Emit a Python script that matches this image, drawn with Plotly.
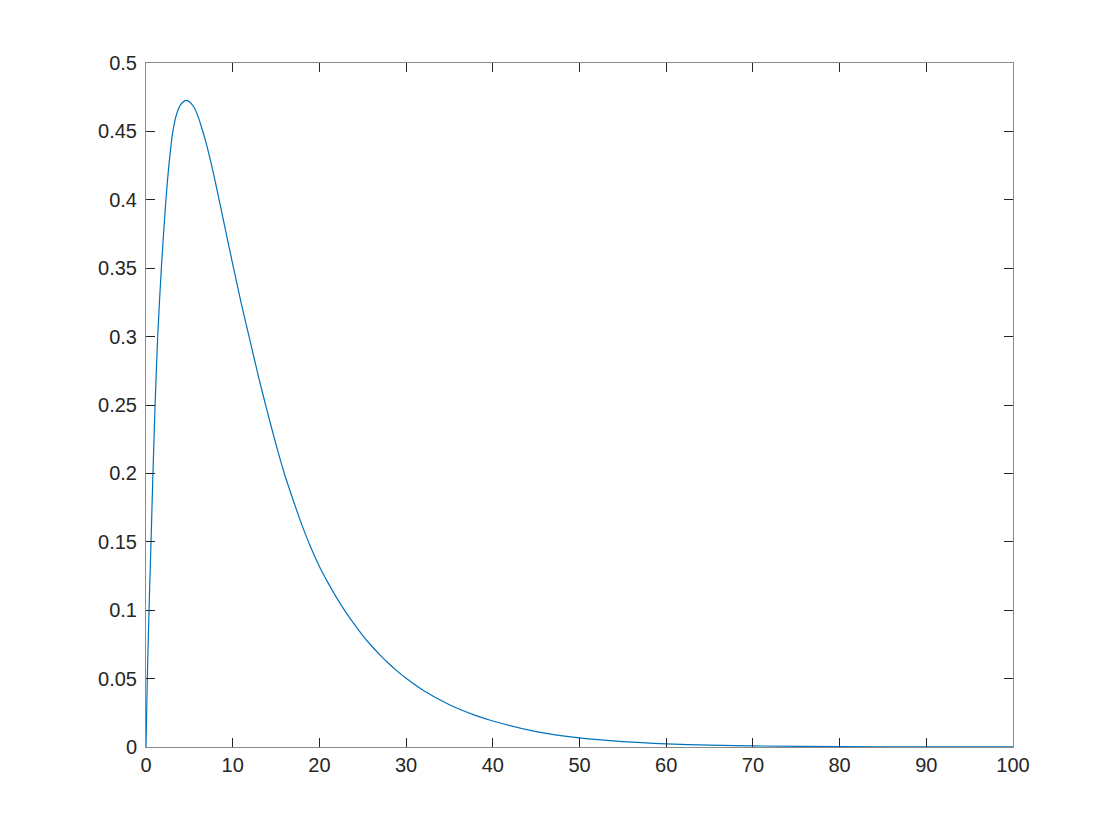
import plotly.graph_objects as go

# Values
x_vals = [0, 0.15, 0.35, 0.58, 0.8, 1.05, 1.35, 1.77, 2.3, 2.7, 3.1, 3.5, 4.0,
          4.6, 5.0, 5.5, 6.0, 6.5, 7.0, 7.5, 8.0, 9.0, 10.0, 11.0, 12.0, 13.0,
          14.0, 15.0, 16.0, 17.0, 18.0, 19.0, 20.0, 21.0, 22.0, 23.0, 24.0, 25.0,
          26.0, 27.0, 28.0, 29.0, 30.0, 32.0, 35.0, 38.0, 40.0, 45.0, 50.0, 55.0,
          60.0, 65.0, 70.0, 80.0, 90.0, 100.0]
y_vals = [0, 0.05, 0.10, 0.15, 0.20, 0.25, 0.30, 0.35, 0.40, 0.429, 0.450, 0.462, 0.4695,
          0.4727, 0.4717, 0.468, 0.461, 0.451, 0.440, 0.427, 0.413, 0.383, 0.353, 0.324,
          0.297, 0.270, 0.245, 0.221, 0.199, 0.180, 0.162, 0.146, 0.132, 0.120, 0.109,
          0.099, 0.090, 0.0815, 0.0740, 0.0672, 0.0610, 0.0553, 0.0502, 0.0413, 0.0309,
          0.0231, 0.0190, 0.0112, 0.0066, 0.0039, 0.0023, 0.0014, 0.0008, 0.0003,
          0.0001, 0.00004]

x_ticks = [0, 10, 20, 30, 40, 50, 60, 70, 80, 90, 100]
y_ticks = [0, 0.05, 0.1, 0.15, 0.2, 0.25, 0.3, 0.35, 0.4, 0.45, 0.5]
y_tick_text = ["0", "0.05", "0.1", "0.15", "0.2", "0.25", "0.3", "0.35", "0.4", "0.45", "0.5"]

fig = go.Figure()
fig.add_trace(go.Scatter(
    x=x_vals, y=y_vals, mode="lines",
    line=dict(color="#0072BD", width=1.2, shape="spline", smoothing=0.8),
    showlegend=False, hoverinfo="x+y",
))

axis_common = dict(
    showgrid=False, zeroline=False,
    showline=True, linecolor="#8a8a8a", linewidth=1, mirror="ticks",
    ticks="inside", ticklen=9, tickwidth=1, tickcolor="#262626",
    tickfont=dict(family="Liberation Sans, Arial, sans-serif", size=20, color="#262626"),
)

fig.update_xaxes(range=[0, 100], tickvals=x_ticks, ticktext=[str(v) for v in x_ticks], **axis_common)
fig.update_yaxes(range=[0, 0.5], tickvals=y_ticks, ticktext=y_tick_text, ticklabelstandoff=4, **axis_common)

fig.update_layout(
    width=1120, height=840,
    margin=dict(l=138, r=115, t=55, b=101),
    paper_bgcolor="white", plot_bgcolor="white",
)

fig.write_html("out.html")
